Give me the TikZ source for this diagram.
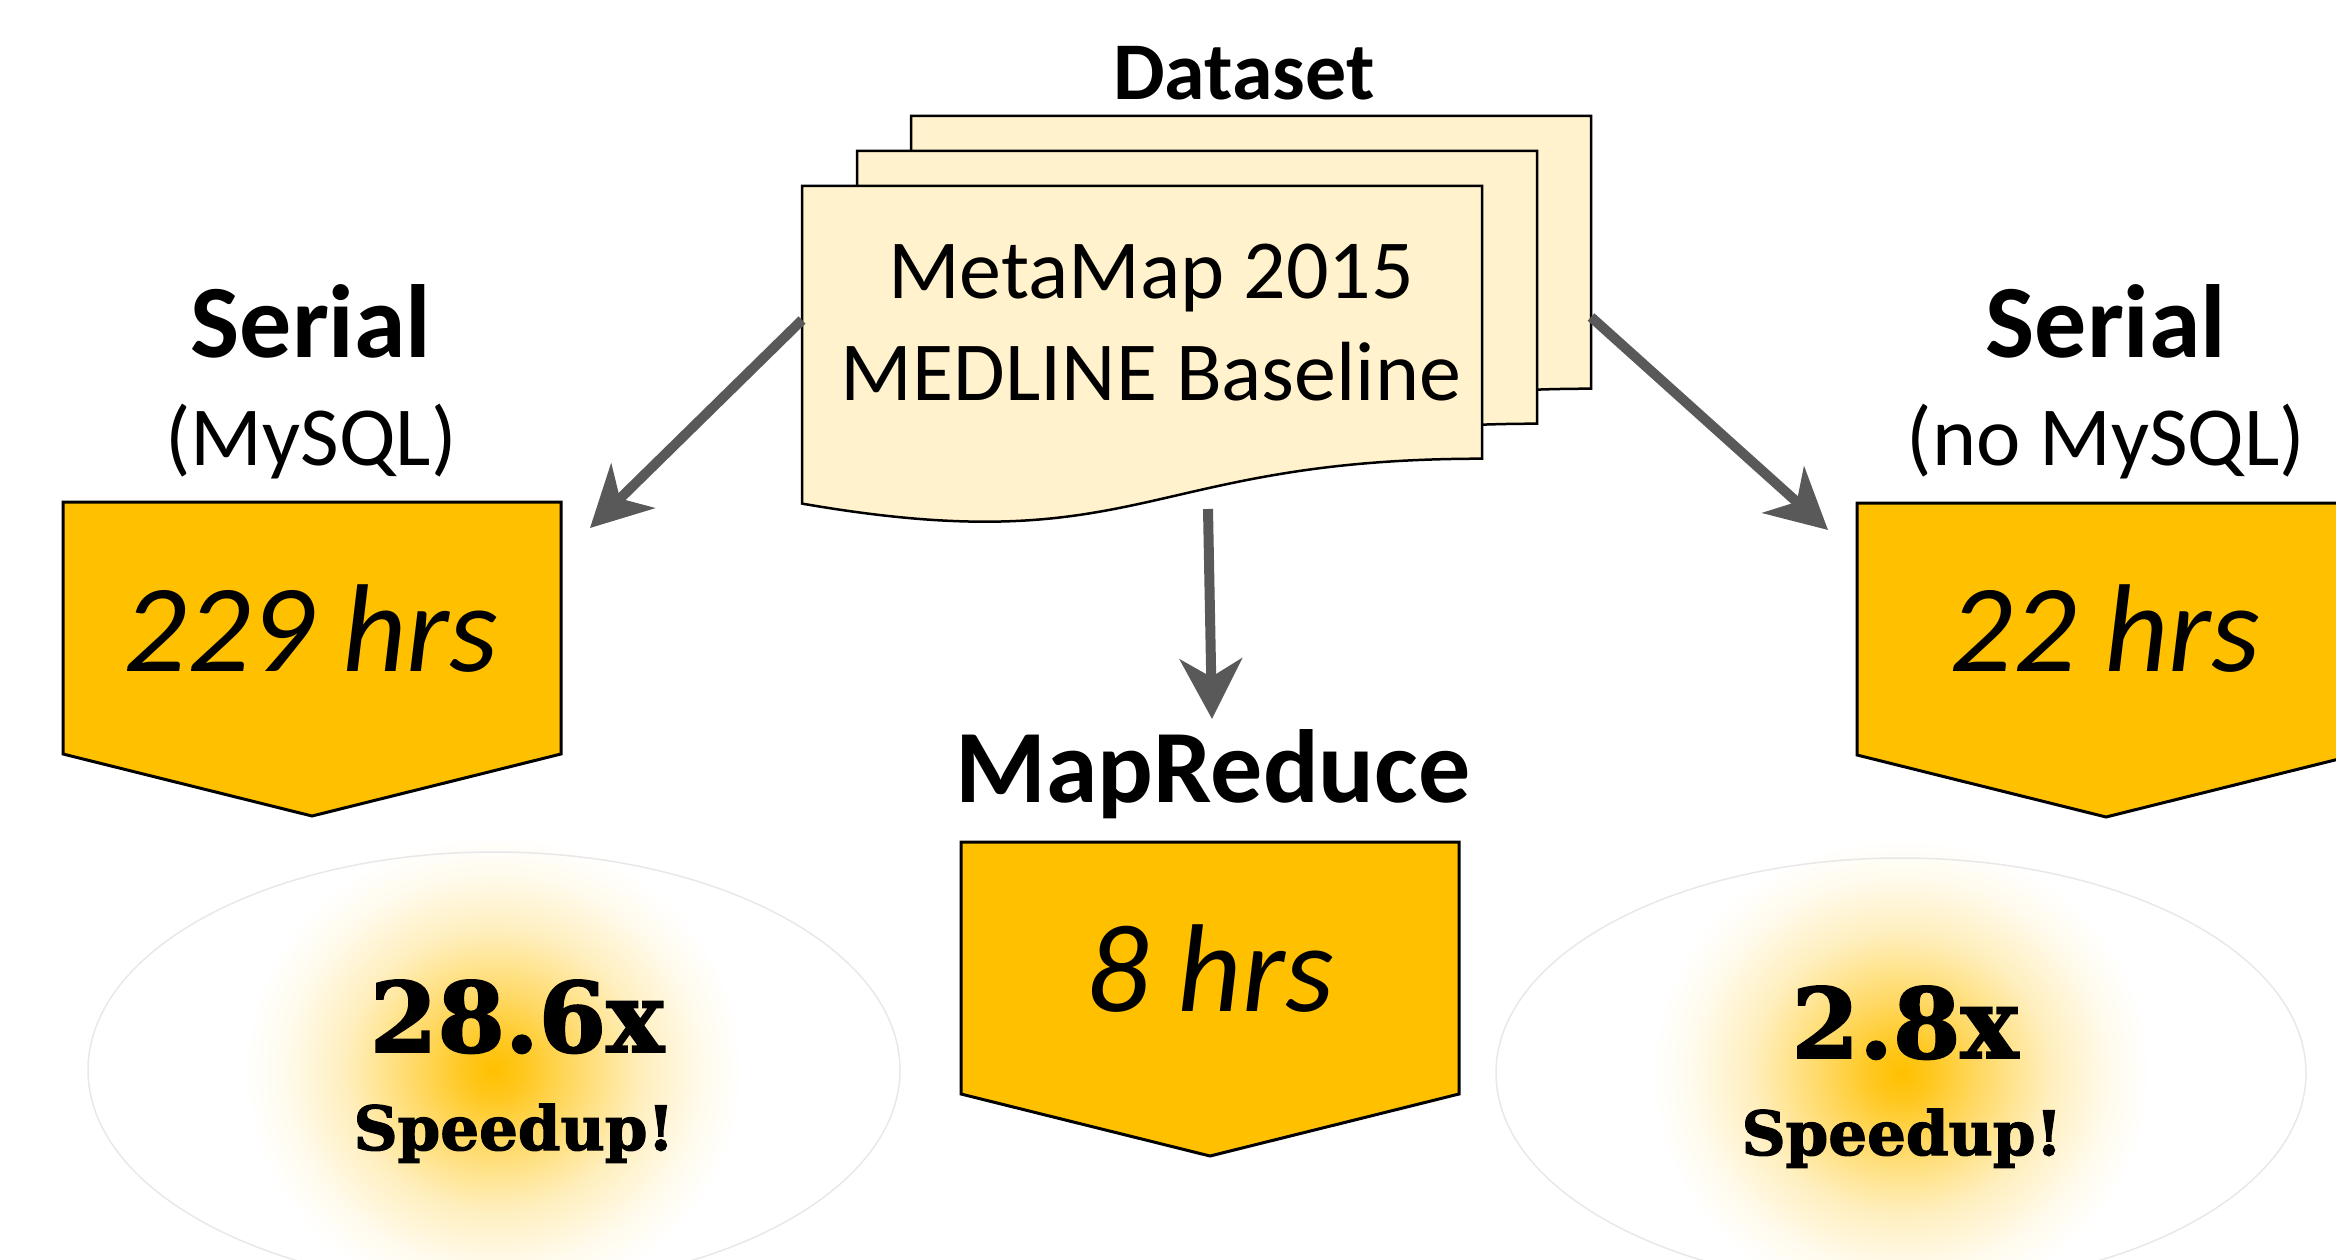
\documentclass[tikz,border=0pt]{standalone}
\usepackage{fontspec}
\setmainfont{Carlito}
\newfontfamily\slabfont{DejaVu Serif}[BoldFeatures={FakeBold=2}]
\usetikzlibrary{arrows.meta}
\definecolor{gold}{HTML}{FFC000}
\definecolor{paper}{HTML}{FFF2CC}
\definecolor{arrowgray}{HTML}{595959}
\pgfdeclareradialshading{glowshade}{\pgfpoint{0bp}{0bp}}{color(0bp)=(gold); color(3bp)=(gold!88!white); color(8bp)=(gold!60!white); color(15bp)=(gold!25!white); color(21bp)=(gold!7!white); color(25bp)=(white); color(50bp)=(white)}
\newcommand\fsz[1]{\fontsize{#1}{#1}\selectfont}
\newcommand\docpath[2]{%
  \draw[docstyle] (#1,#2) -- (#1+680,#2) -- (#1+680,#2+272.7)
    .. controls (#1+340,#2+272.7) and (#1+340,#2+376.5) .. (#1,#2+317.6) -- cycle;}
\newcommand\pentpath[2]{%
  \draw[pentstyle] (#1-249,#2) -- (#1+249,#2) -- (#1+249,#2+252) -- (#1,#2+314) -- (#1-249,#2+252) -- cycle;}
\begin{document}
\begin{tikzpicture}[x=1pt,y=-1pt,
  docstyle/.style={draw=black, fill=paper, line width=2.5pt, line join=miter},
  pentstyle/.style={draw=black, fill=gold, line width=3pt, line join=miter},
  flow/.style={draw=arrowgray, line width=10pt, -{Stealth[length=60pt,width=62pt,inset=18pt]}},
  title/.style={anchor=base, inner sep=0pt, font=\fsz{104}\bfseries},
  sub/.style={anchor=base, inner sep=0pt, font=\fsz{84}},
  doctext/.style={anchor=base, inner sep=0pt, font=\fsz{84}},
  hours/.style={anchor=base, inner sep=0pt, font=\fsz{125}\itshape},
  big/.style={anchor=base, inner sep=0pt, font=\fsz{97}\slabfont\bfseries},
  small/.style={anchor=base, inner sep=0pt, font=\fsz{61}\slabfont\bfseries},
  oval/.style={draw=gray!18, line width=1.5pt}
]
\useasboundingbox (0,0) rectangle (2336,1260);
\clip (0,0) rectangle (2336,1260);

% glows and ellipses
\shade[shading=glowshade] (494,1070) ellipse [x radius=250pt, y radius=235pt];
\draw[oval] (494,1070) ellipse [x radius=406pt, y radius=218pt];
\shade[shading=glowshade] (1901,1073) ellipse [x radius=250pt, y radius=235pt];
\draw[oval] (1901,1073) ellipse [x radius=405pt, y radius=215pt];

% dataset stack
\node[anchor=base, inner sep=0pt, font=\fsz{82}\bfseries] (dataset) at (1244,100) {Dataset};
\docpath{911}{116}
\docpath{857}{151}
\docpath{802}{186}
\node[doctext] (meta) at (1151,298) {MetaMap 2015};
\node[doctext] (medline) at (1151,400) {MEDLINE Baseline};

% left column
\node[title] (serialL) at (311,357) {Serial};
\node[sub] (mysql) at (311,465) {(MySQL)};
\pentpath{312}{502}
\node[hours] (h229) at (311,671) {229 hrs};

% right column
\node[title] (serialR) at (2106,357) {Serial};
\node[sub] (nomysql) at (2106,465) {(no MySQL)};
\pentpath{2106}{503}
\node[hours] (h22) at (2105,671) {22 hrs};

% middle column
\node[title] (mapred) at (1213,802) {MapReduce};
\pentpath{1210}{842}
\node[hours] (h8) at (1210,1011) {8 hrs};

% speedups
\node[big] (sp1) at (517,1052) {28.6x};
\node[small] (sp1b) at (514,1150) {Speedup!};
\node[big] (sp2) at (1905,1058) {2.8x};
\node[small] (sp2b) at (1902,1155) {Speedup!};

% connectors
\coordinate (docL) at (802,320);
\coordinate (tipL) at (590,528);
\coordinate (docR) at (1591,317);
\coordinate (tipR) at (1828,530);
\coordinate (docB) at (1208,509);
\coordinate (tipM) at (1212,719);
\draw[flow] (docL) -- (tipL);
\draw[flow] (docR) -- (tipR);
\draw[flow] (docB) -- (tipM);
\end{tikzpicture}
\end{document}
